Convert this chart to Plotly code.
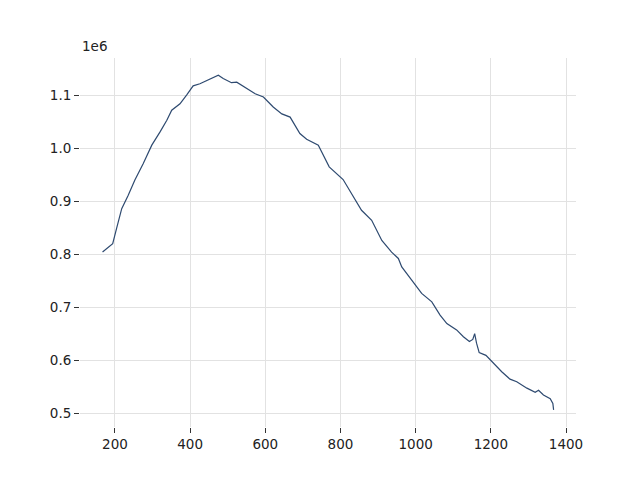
import plotly.graph_objects as go

x_vals = [167, 182, 194, 204, 218, 235, 253, 275, 298, 320, 338, 351, 373, 391, 408,
          426, 444, 462, 475, 488, 510, 524, 550, 573, 595, 621, 644, 666, 692, 710,
          741, 754, 770, 807, 839, 856, 883, 910, 936, 954, 963, 994, 1016, 1043,
          1065, 1083, 1109, 1127, 1143, 1152, 1157, 1162, 1169, 1187, 1207, 1229,
          1251, 1269, 1296, 1318, 1327, 1340, 1358, 1365, 1367]
y_vals = [804000, 812000, 820000, 848000, 886000, 911000, 940000, 971000, 1006000,
          1031000, 1053000, 1072000, 1084000, 1101000, 1118000, 1122000, 1128000,
          1133000, 1138000, 1132000, 1124000, 1125000, 1113000, 1103000, 1097000,
          1078000, 1065000, 1059000, 1028000, 1017000, 1006000, 987000, 965000,
          941000, 902000, 883000, 864000, 826000, 804000, 792000, 776000, 748000,
          726000, 710000, 685000, 669000, 657000, 644000, 635000, 639000, 650000,
          632000, 614000, 609000, 594000, 578000, 564000, 559000, 547000, 539000,
          543000, 534000, 527000, 518000, 506000]

x_ticks = [200, 400, 600, 800, 1000, 1200, 1400]
y_ticks = [500000, 600000, 700000, 800000, 900000, 1000000, 1100000]
y_tick_text = [f"{v / 1e6:.1f}" for v in y_ticks]

fig = go.Figure()
fig.add_trace(go.Scatter(x=x_vals, y=y_vals, mode="lines",
                         line=dict(color="#2e4a70", width=1.2)))

font = dict(family="DejaVu Sans", size=13.5, color="#222222")
fig.update_layout(
    width=624, height=464,
    margin=dict(l=72, r=56, t=50, b=45),
    paper_bgcolor="white", plot_bgcolor="white",
    showlegend=False,
    font=font,
    xaxis=dict(range=[107, 1426.6], tickvals=x_ticks, showgrid=True,
               gridcolor="#e2e2e2", gridwidth=1.1, zeroline=False, showline=False,
               ticks="outside", ticklen=5, tickcolor="#333333", tickwidth=1),
    yaxis=dict(range=[473600, 1170600], tickvals=y_ticks, ticktext=y_tick_text,
               showgrid=True, gridcolor="#e2e2e2", gridwidth=1.1, zeroline=False,
               showline=False, ticks="outside", ticklen=5, tickcolor="#333333",
               tickwidth=1),
    annotations=[dict(text="1e6", xref="paper", yref="paper", x=0, y=1,
                      xanchor="left", yanchor="bottom", showarrow=False,
                      yshift=2, font=font)],
)
fig.write_html("out.html")
